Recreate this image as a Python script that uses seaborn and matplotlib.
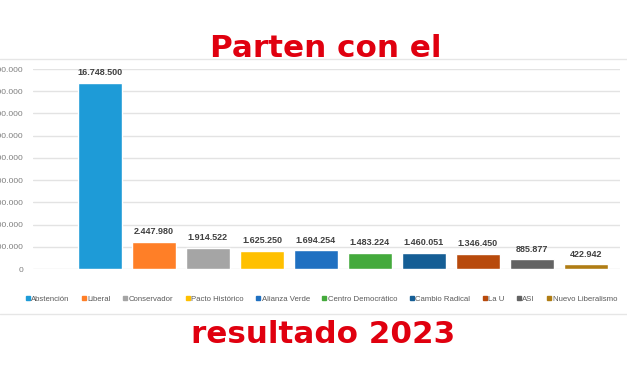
import matplotlib
matplotlib.use("Agg")
import matplotlib.pyplot as plt
import seaborn as sns
import pandas as pd
from matplotlib.lines import Line2D
from matplotlib.ticker import FuncFormatter

partidos = ["Abstención", "Liberal", "Conservador", "Pacto Histórico", "Alianza Verde",
            "Centro Democrático", "Cambio Radical", "La U", "ASI", "Nuevo Liberalismo"]
votos = [16748500, 2447980, 1914522, 1625250, 1694254, 1483224, 1460051, 1346450, 885877, 422942]
colores = ["#1E9BD7", "#FF7F27", "#A5A5A5", "#FFC000", "#1F70C1",
           "#44AA3C", "#155E95", "#B84A0C", "#636363", "#B07D14"]
y_ticks = list(range(0, 18000001, 2000000))

df = pd.DataFrame({"partido": partidos, "votos": votos})

sns.set_theme(style="white")
plt.rcParams["font.family"] = ["Liberation Sans", "DejaVu Sans"]

W, H = 627, 376
fig = plt.figure(figsize=(W / 100, H / 100), dpi=100)
fig.patch.set_facecolor("white")

ax = fig.add_axes([33 / W, 1 - 269 / H, (620 - 33) / W, (269 - 69) / H])
sns.barplot(data=df, x="partido", y="votos", hue="partido", palette=colores,
            dodge=False, width=0.8, legend=False, ax=ax, saturation=1)

ax.set_xlim(-1.24, 9.63)
ax.set_ylim(0, 18000000)
ax.set_yticks(y_ticks)
ax.yaxis.set_major_formatter(FuncFormatter(lambda v, p: f"{int(v):,}".replace(",", ".")))
ax.tick_params(axis="y", labelsize=6.0, colors="#7f7f7f", length=0, pad=7)
ax.set_xticks([])
ax.set_xlabel("")
ax.set_ylabel("")
ax.grid(axis="y", color="#e3e3e3", linewidth=1)
ax.set_axisbelow(True)
for s in ax.spines.values():
    s.set_visible(False)

for i, v in enumerate(votos):
    ax.annotate(f"{v:,}".replace(",", "."), (i, v), xytext=(0, 4), textcoords="offset points",
                ha="center", va="bottom", fontsize=6.5, color="#404040", fontweight="bold")

handles = [Line2D([], [], marker="s", linestyle="none", markersize=3.0,
                  markerfacecolor=c, markeredgecolor=c) for c in colores]
fig.legend(handles, partidos, loc="center", bbox_to_anchor=(321 / W, 1 - 299 / H), ncol=10,
           frameon=False, fontsize=5.6, labelcolor="#595959", handletextpad=0.05,
           columnspacing=1.45, handlelength=0.8, borderaxespad=0)

# chart border lines
fig.add_artist(Line2D([0, 1], [1 - 59 / H, 1 - 59 / H], color="#e6e6e6", linewidth=1,
                      transform=fig.transFigure))
fig.add_artist(Line2D([0, 1], [1 - 314 / H, 1 - 314 / H], color="#e6e6e6", linewidth=1,
                      transform=fig.transFigure))

fig.text(326 / W, 1 - 57 / H, "Parten con el", ha="center", va="baseline", fontsize=22.3,
         fontweight="bold", family=["DejaVu Sans"], color="#E0000F")
fig.text(323 / W, 1 - 343 / H, "resultado 2023", ha="center", va="baseline", fontsize=22.3,
         fontweight="bold", family=["DejaVu Sans"], color="#E0000F")

fig.savefig("out.png", dpi=100, facecolor="white")
